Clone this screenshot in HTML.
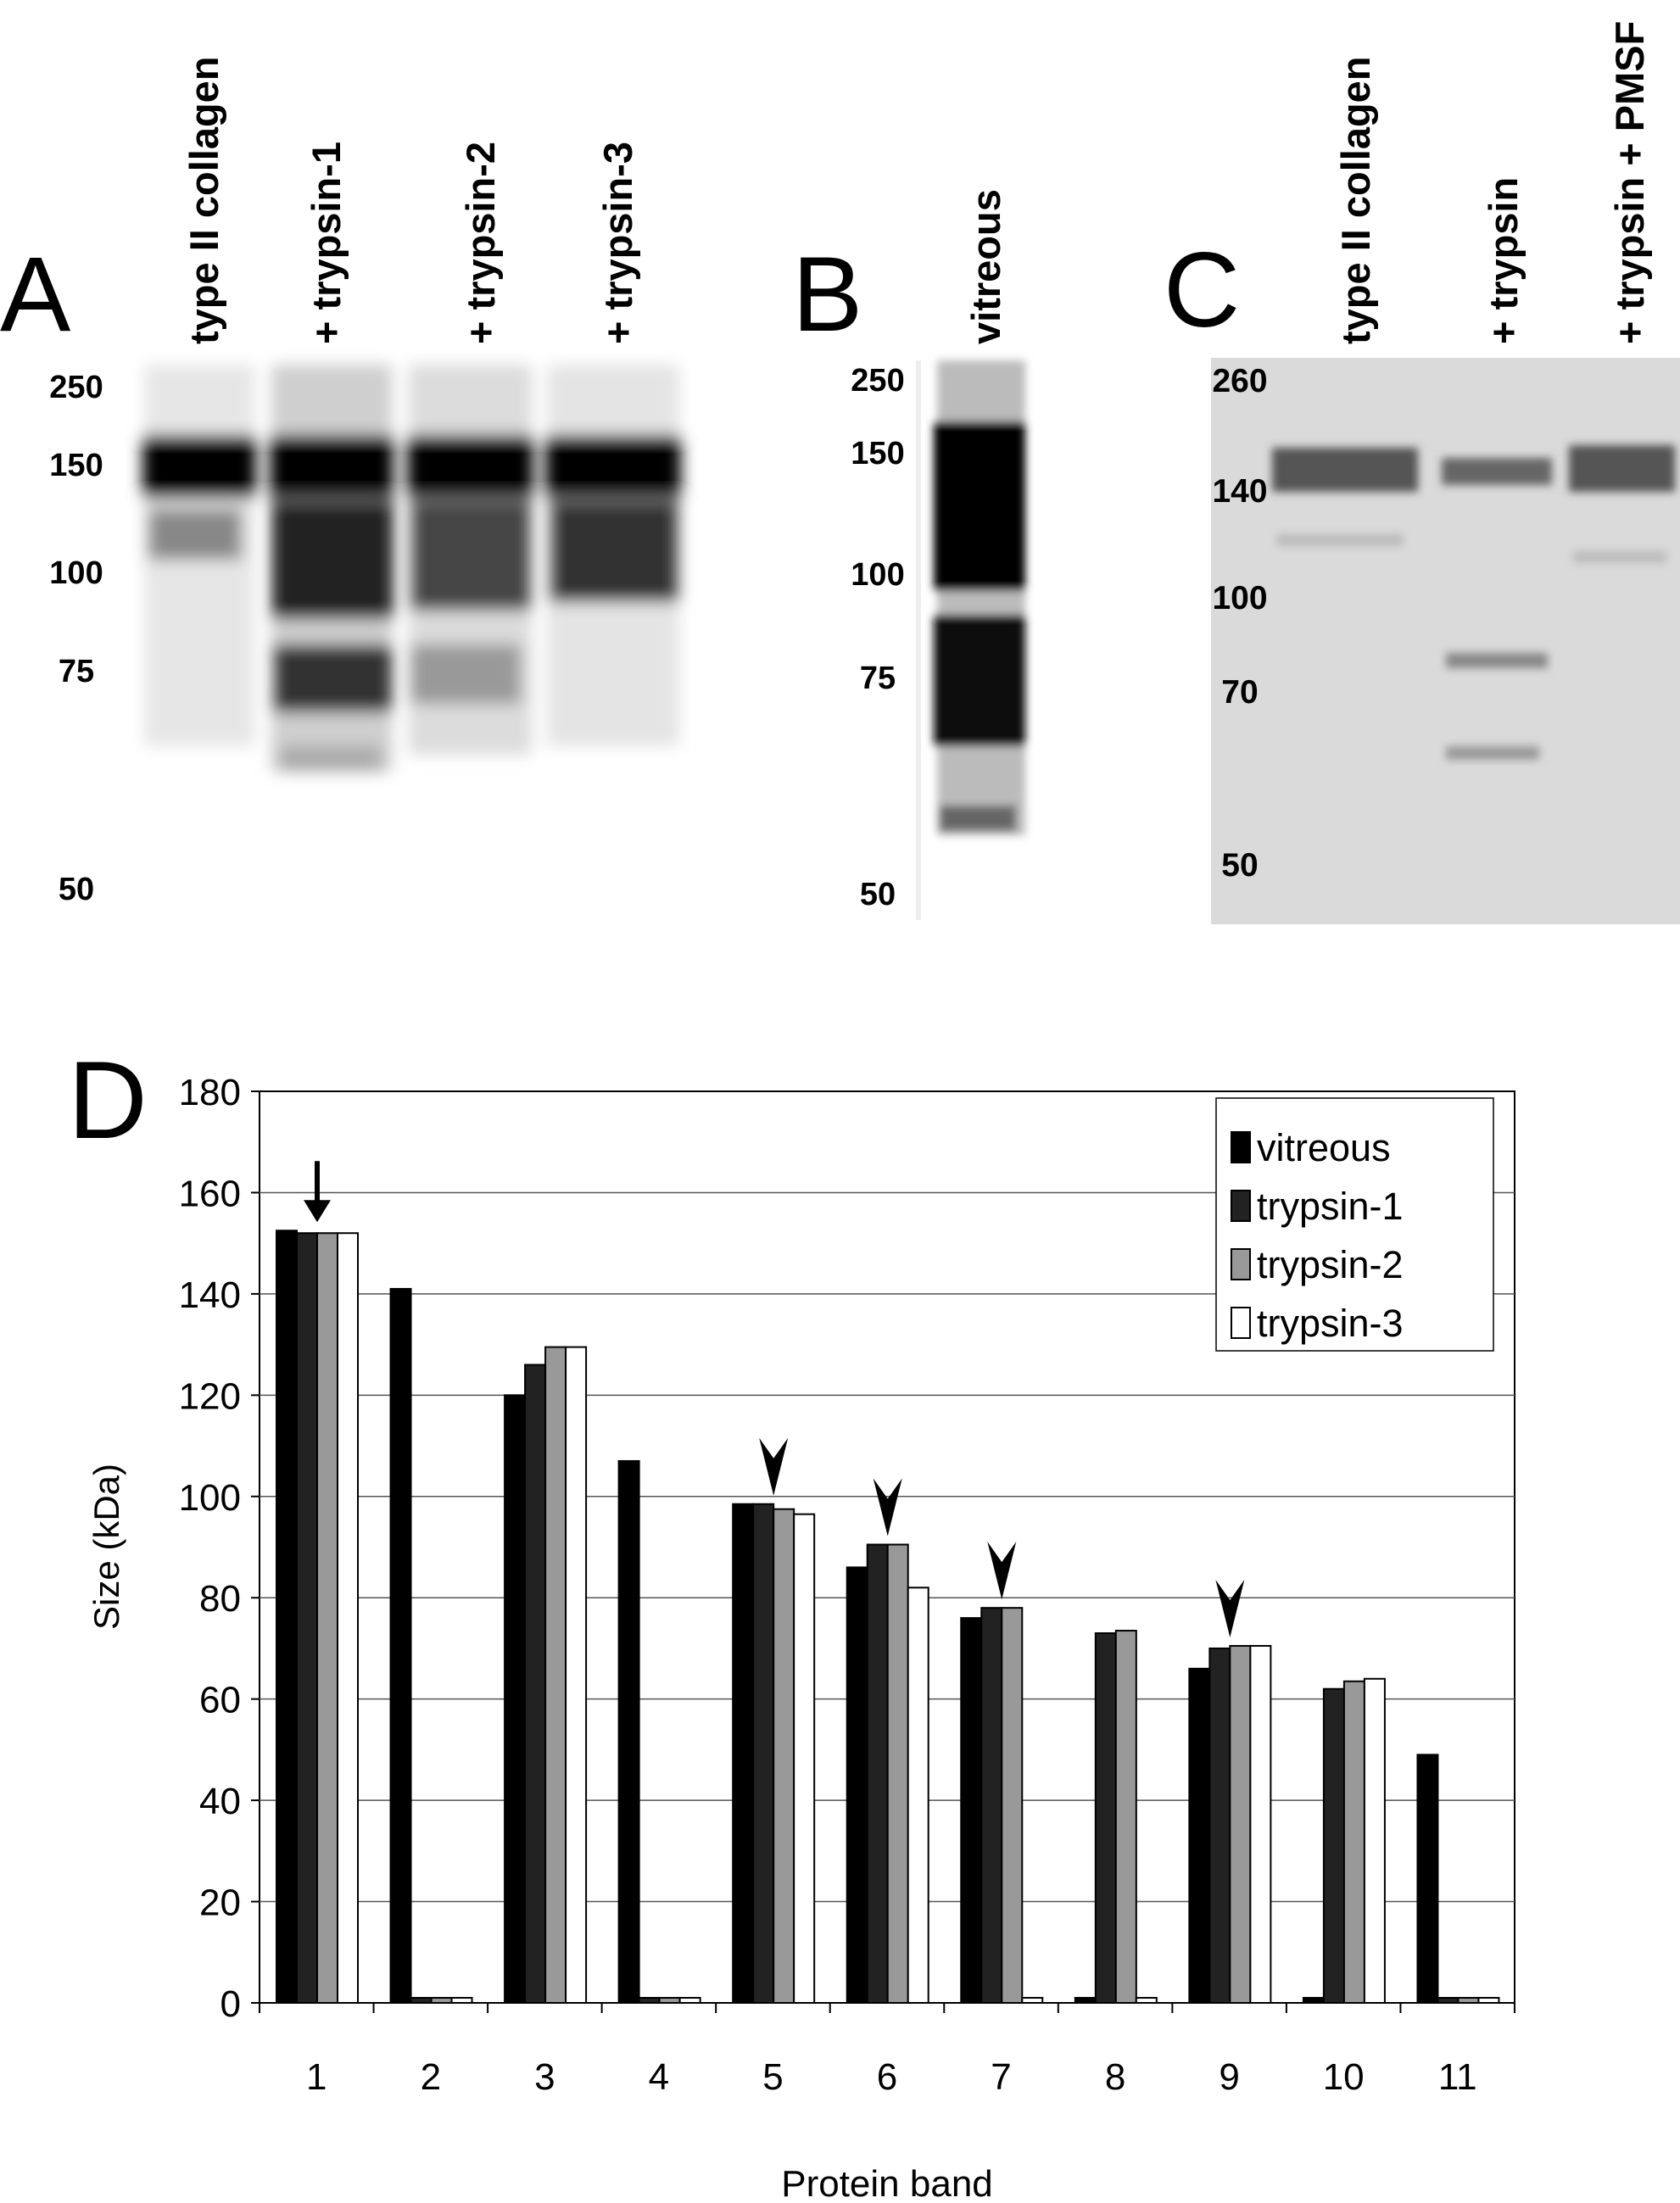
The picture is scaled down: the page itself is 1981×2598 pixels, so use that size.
<!DOCTYPE html>
<html><head><meta charset="utf-8"><style>
html,body{margin:0;padding:0;background:#fff}
svg{display:block}
text{font-family:"Liberation Sans",sans-serif}
</style></head><body>
<svg id="fig" width="1981" height="2598" viewBox="0 0 1981 2598" xmlns="http://www.w3.org/2000/svg">
<defs>
<filter id="bl" x="-20%" y="-20%" width="140%" height="140%"><feGaussianBlur stdDeviation="9"/></filter>
<filter id="bl2" x="-20%" y="-20%" width="140%" height="140%"><feGaussianBlur stdDeviation="5"/></filter>
</defs>
<!-- Panel A -->
<g>
<text x="0" y="390" font-size="125">A</text>
<g font-weight="bold" font-size="47">
<text transform="translate(257,406) rotate(-90)">type II collagen</text>
<text transform="translate(401,406) rotate(-90)">+ trypsin-1</text>
<text transform="translate(583,406) rotate(-90)">+ trypsin-2</text>
<text transform="translate(745,406) rotate(-90)">+ trypsin-3</text>
</g>
<g font-weight="bold" font-size="38" text-anchor="middle">
<text x="90" y="469">250</text><text x="90" y="561">150</text><text x="90" y="688">100</text><text x="90" y="804">75</text><text x="90" y="1061">50</text>
</g>
<g filter="url(#bl)">
<rect x="170" y="430" width="130" height="450" fill="#e6e6e6"/>
<rect x="320" y="430" width="142" height="480" fill="#cfcfcf"/>
<rect x="482" y="430" width="145" height="460" fill="#dcdcdc"/>
<rect x="645" y="430" width="156" height="450" fill="#e4e4e4"/>
<rect x="168" y="513" width="134" height="75" fill="#000"/>
<rect x="318" y="513" width="146" height="75" fill="#000"/>
<rect x="480" y="513" width="149" height="75" fill="#000"/>
<rect x="643" y="513" width="160" height="75" fill="#000"/>
<rect x="175" y="600" width="110" height="60" fill="#888"/>
<rect x="320" y="590" width="144" height="140" fill="#222"/>
<rect x="322" y="760" width="140" height="80" fill="#333"/>
<rect x="484" y="590" width="142" height="130" fill="#444"/>
<rect x="648" y="590" width="152" height="120" fill="#333"/>
<rect x="484" y="760" width="130" height="70" fill="#999"/>
<rect x="330" y="880" width="120" height="30" fill="#aaa"/>
</g>
</g>
<!-- Panel B -->
<g>
<text x="934" y="390" font-size="125">B</text>
<text transform="translate(1179,406) rotate(-90)" font-weight="bold" font-size="47">vitreous</text>
<g font-weight="bold" font-size="38" text-anchor="middle">
<text x="1035" y="461">250</text><text x="1035" y="547">150</text><text x="1035" y="690">100</text><text x="1035" y="812">75</text><text x="1035" y="1067">50</text>
</g>
<rect x="1080" y="425" width="6" height="660" fill="#eee"/>
<g filter="url(#bl2)">
<rect x="1105" y="425" width="104" height="560" fill="#bbb"/>
<rect x="1101" y="497" width="108" height="200" fill="#000"/>
<rect x="1101" y="725" width="108" height="155" fill="#111"/>
<rect x="1108" y="950" width="90" height="30" fill="#666"/>
</g>
</g>
<!-- Panel C -->
<g>
<text x="1372" y="385" font-size="125">C</text>
<rect x="1428" y="422" width="553" height="668" fill="#dadada"/>
<g font-weight="bold" font-size="47">
<text transform="translate(1615,406) rotate(-90)">type II collagen</text>
<text transform="translate(1789,406) rotate(-90)">+ trypsin</text>
<text transform="translate(1938,406) rotate(-90)">+ trypsin + PMSF</text>
</g>
<g font-weight="bold" font-size="39" text-anchor="middle">
<text x="1462" y="462">260</text><text x="1462" y="592">140</text><text x="1462" y="718">100</text><text x="1462" y="829">70</text><text x="1462" y="1033">50</text>
</g>
<g filter="url(#bl2)">
<rect x="1500" y="528" width="172" height="52" fill="#555"/>
<rect x="1700" y="540" width="130" height="32" fill="#666"/>
<rect x="1850" y="525" width="125" height="55" fill="#555"/>
<rect x="1505" y="630" width="150" height="14" fill="#bbb"/>
<rect x="1705" y="770" width="120" height="18" fill="#888"/>
<rect x="1705" y="880" width="110" height="16" fill="#999"/>
<rect x="1855" y="650" width="110" height="14" fill="#bbb"/>
</g>
</g>
<!-- Panel D -->
<text x="80" y="1342" font-size="130">D</text>
<g id="chart"></g>
</svg>
<script>
const categories = ["1","2","3","4","5","6","7","8","9","10","11"];
const seriesNames = ["vitreous","trypsin-1","trypsin-2","trypsin-3"];
const vitreous = [152.5,141,120,107,98.5,86,76,1,66,1,49];
const trypsin1 = [152,1,126,1,98.5,90.5,78,73,70,62,1];
const trypsin2 = [152,1,129.5,1,97.5,90.5,78,73.5,70.5,63.5,1];
const trypsin3 = [152,1,129.5,1,96.5,82,1,1,70.5,64,1];
const yTicks = [0,20,40,60,80,100,120,140,160,180];
const arrowCats = [0,4,5,6,8];

const NS="http://www.w3.org/2000/svg";
const g=document.getElementById('chart');
const L=306,R=1786,T=1287,B=2362,yMax=180;
const y=v=>B-(v/yMax)*(B-T);
const cw=(R-L)/categories.length;
const x=i=>L+i*cw;
const colors=["#000","#222","#999","#fff"];
const allSeries=[vitreous,trypsin1,trypsin2,trypsin3];
function mk(t,a){const e=document.createElementNS(NS,t);for(const k in a)e.setAttribute(k,a[k]);g.appendChild(e);return e;}
let e;
e=mk('rect',{x:L,y:T,width:R-L,height:B-T,fill:'#fff',stroke:'#000','stroke-width':2});


yTicks.forEach(t=>{
  if(t>0&&t<yMax){e=mk('line',{x1:L,x2:R,y1:y(t),y2:y(t),stroke:'#555','stroke-width':1.5});
  
  }
  mk('line',{x1:L-10,x2:L,y1:y(t),y2:y(t),stroke:'#000','stroke-width':2});
  e=mk('text',{x:L-22,y:y(t)+16,'text-anchor':'end','font-size':44});
  e.textContent=t;
  
  
});
const bw=24, off=20;
categories.forEach((c,i)=>{
  mk('line',{x1:x(i),x2:x(i),y1:B,y2:B+12,stroke:'#000','stroke-width':2});
  allSeries.forEach((s,j)=>{
    e=mk('rect',{x:x(i)+off+j*bw,y:y(s[i]),width:bw,height:B-y(s[i]),fill:colors[j],stroke:'#000','stroke-width':2});
    
    
  });
  e=mk('text',{x:x(i)+cw/2,y:2464,'text-anchor':'middle','font-size':44});
  e.textContent=c;
  
  
});
mk('line',{x1:R,x2:R,y1:B,y2:B+12,stroke:'#000','stroke-width':2});
e=mk('text',{x:(L+R)/2,y:2590,'text-anchor':'middle','font-size':44});
e.textContent='Protein band';


e=mk('text',{x:0,y:0,'text-anchor':'middle','font-size':42,transform:'translate(140,1824) rotate(-90)'});
e.textContent='Size (kDa)';


arrowCats.forEach((ci,k)=>{
  const top=Math.max(...allSeries.map(s=>s[ci]));
  const cx=x(ci)+off+2*bw;
  const tipY=y(top)-10;
  if(k===0){
    mk('line',{x1:cx,x2:cx,y1:tipY-72,y2:tipY-20,stroke:'#000','stroke-width':6});
    e=mk('path',{d:`M${cx-16} ${tipY-26} L${cx+16} ${tipY-26} L${cx} ${tipY} Z`,fill:'#000'});
  } else {
    e=mk('path',{d:`M${cx-17} ${tipY-68} L${cx} ${tipY-44} L${cx+17} ${tipY-68} L${cx} ${tipY} Z`,fill:'#000'});
  }
  
  
});
e=mk('rect',{x:1434,y:1295,width:327,height:298,fill:'#fff',stroke:'#000','stroke-width':1.5});


seriesNames.forEach((n,j)=>{
  const ly=1353+j*69;
  mk('rect',{x:1452,y:ly-18,width:22,height:36,fill:colors[j],stroke:'#000','stroke-width':2});
  e=mk('text',{x:1482,y:ly+16,'font-size':45});
  e.textContent=n;
  
  
});
</script>
</body></html>
